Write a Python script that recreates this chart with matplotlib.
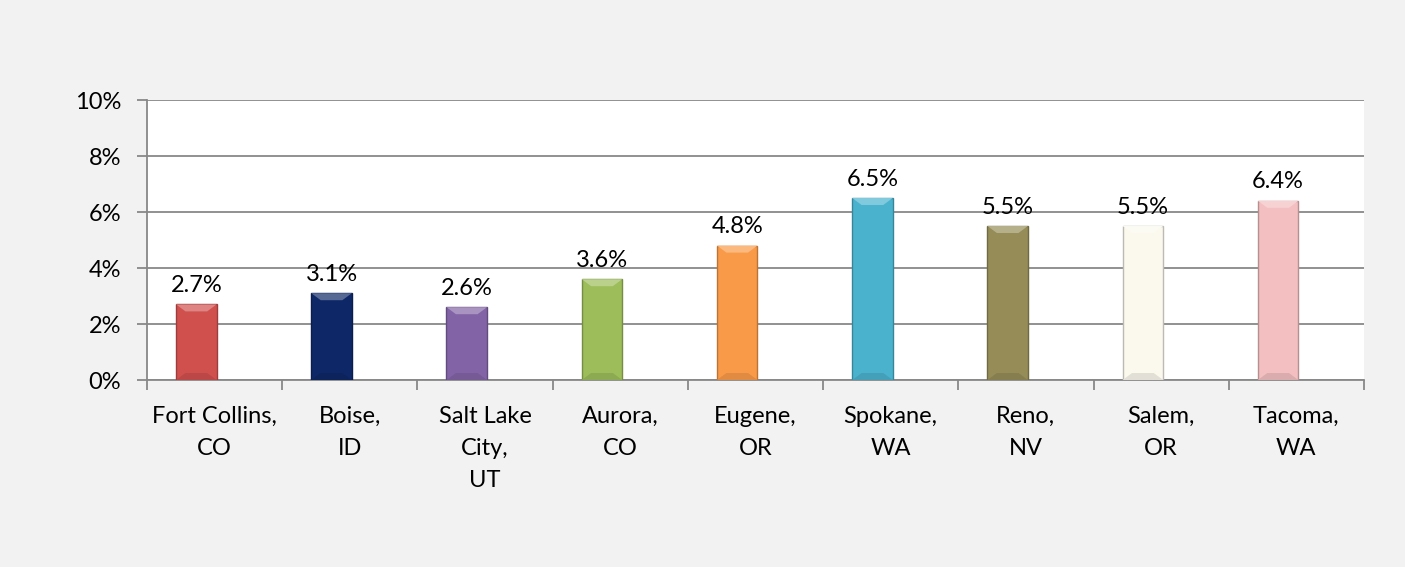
"""Bar chart: growth rate by city, Excel-like bevelled bars."""
import matplotlib
import numpy as np

matplotlib.use("Agg")
import matplotlib.pyplot as plt
from matplotlib.colors import to_rgb
from matplotlib.patches import Polygon
from matplotlib.ticker import FuncFormatter, MultipleLocator

cities = ["Fort Collins,\nCO", "Boise,\nID", "Salt Lake\nCity,\nUT", "Aurora,\nCO", "Eugene,\nOR",
          "Spokane,\nWA", "Reno,\nNV", "Salem,\nOR", "Tacoma,\nWA"]
values = [2.7, 3.1, 2.6, 3.6, 4.8, 6.5, 5.5, 5.5, 6.4]
colors = ["#D0504E", "#0E2766", "#8264A6", "#9CBD5A", "#F99A48", "#4BB2CD", "#958C58", "#FBF9EE", "#F3BFC0"]

plt.rcParams["font.family"] = ["Lato", "DejaVu Sans"]


def shade(color, k):
    r, g, b = to_rgb(color)
    if k > 0:
        return (r + (1 - r) * k, g + (1 - g) * k, b + (1 - b) * k)
    return (r * (1 + k), g * (1 + k), b * (1 + k))


fig = plt.figure(figsize=(14.05, 5.67), dpi=100, facecolor="#F2F2F2")
ax = fig.add_axes([0.1046, 0.3298, 0.8662, 0.4938])
ax.set_facecolor("white")

x = np.arange(len(cities))
bars = ax.bar(x - 0.135, values, width=0.3, color=colors, edgecolor=[shade(c, -0.25) for c in colors],
              lw=1, zorder=3)

# bevel: lighter top, darker bottom
for rect, c in zip(bars, colors):
    x0, w, h = rect.get_x(), rect.get_width(), rect.get_height()
    dx, dy = 0.07, 0.25
    top = [(x0, h), (x0 + w, h), (x0 + w - dx, h - dy), (x0 + dx, h - dy)]
    bot = [(x0, 0), (x0 + w, 0), (x0 + w - dx, dy), (x0 + dx, dy)]
    ax.add_patch(Polygon(top, closed=True, fc=shade(c, 0.3), ec="none", zorder=4))
    ax.add_patch(Polygon(bot, closed=True, fc=shade(c, -0.1), ec="none", zorder=4))
    ax.annotate(f"{h:.1f}%", (x0 + w / 2, h), xytext=(0, 9), textcoords="offset points",
                ha="center", va="baseline", fontsize=17, color="black")

ax.set_ylim(0, 10)
ax.set_xlim(-0.5, len(cities) - 0.5)
ax.yaxis.set_major_locator(MultipleLocator(2))
ax.yaxis.set_major_formatter(FuncFormatter(lambda v, _: f"{v:.0f}%"))
ax.grid(axis="y", color="#888888", lw=1.3, zorder=1)

ax.set_xticks(x)
ax.set_xticklabels(cities, fontsize=17, linespacing=1.66)
ax.set_xticks(np.arange(len(cities) + 1) - 0.5, minor=True)
ax.tick_params(axis="x", which="major", length=0, pad=18.5)
ax.tick_params(axis="x", which="minor", length=7, color="#888888", width=1.3)
ax.tick_params(axis="y", length=7.5, color="#888888", width=1.3, labelsize=17, pad=11)

for side in ["top", "right"]:
    ax.spines[side].set_visible(False)
for side in ["left", "bottom"]:
    ax.spines[side].set_color("#888888")
    ax.spines[side].set_linewidth(1.3)

fig.savefig("out.png", dpi=100, facecolor=fig.get_facecolor())
